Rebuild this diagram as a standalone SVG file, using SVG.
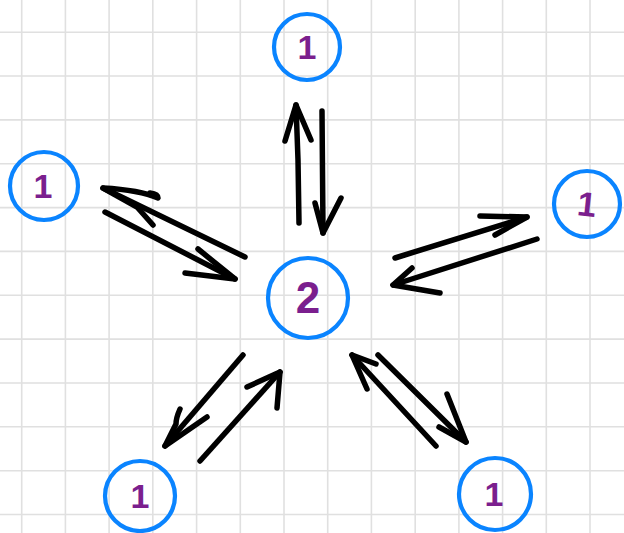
<svg xmlns="http://www.w3.org/2000/svg" width="624" height="533" viewBox="0 0 624 533">
<defs>
<style>
.grid{stroke:#e0e0e0;stroke-width:1.6;fill:none}
.node{fill:none;stroke:#0a84ff;stroke-width:4.2}
.lbl{font-family:"Liberation Sans",Arial,sans-serif;font-weight:bold;fill:#7b1f8e;text-anchor:middle}
.arr{fill:none;stroke:#000;stroke-width:5.5;stroke-linecap:round;stroke-linejoin:round}
</style>
</defs>
<rect width="624" height="533" fill="#fff"/>
<g id="grid" class="grid">
<path d="M21.7 0V533M65.4 0V533M109.1 0V533M152.8 0V533M196.6 0V533M240.3 0V533M284 0V533M327.7 0V533M371.4 0V533M415.2 0V533M458.9 0V533M502.6 0V533M546.3 0V533M590 0V533"/>
<path d="M0 32.2H624M0 76H624M0 119.9H624M0 163.7H624M0 207.6H624M0 251.4H624M0 295.3H624M0 339.1H624M0 383H624M0 426.8H624M0 470.7H624M0 514.5H624"/>
</g>
<g id="connectors" class="arr">
<path d="M299 223 L298 160 L296 105"/>
<path d="M285 141 L296 105 L311 140"/>
<path d="M322 111 L323 233"/>
<path d="M315 203 L323 233 L341 198"/>
<path d="M105 212 L235 279"/>
<path d="M198 249 L235 279 L185 273"/>
<path d="M245 257 L103 188"/>
<path d="M153 225 L137 207 L103 188 Q140 190 158 198 Q158 194 150 193"/>
<path d="M395 258 L527 217"/>
<path d="M480 216 L527 217 L495 235"/>
<path d="M537 239 L393 285"/>
<path d="M412 268 L393 285 L440 293"/>
<path d="M243 355 L165 446"/>
<path d="M180 409 Q176 418 176 424 L165 446 L207 417"/>
<path d="M200 461 L280 372"/>
<path d="M247 387 L280 372 L277 408"/>
<path d="M436 446 L352 355"/>
<path d="M367 389 L352 355 L376 364"/>
<path d="M378 355 L466 442"/>
<path d="M447 394 L466 442 L439 427"/>
</g>
<g id="node-top"><circle class="node" cx="307" cy="47" r="33"/><text class="lbl" x="307" y="59" font-size="34">1</text></g>
<g id="node-left"><circle class="node" cx="44" cy="186" r="34"/><text class="lbl" x="43" y="198" font-size="34">1</text></g>
<g id="node-right"><circle class="node" cx="587" cy="204" r="33"/><text class="lbl" x="587" y="216" font-size="34" transform="rotate(6 587 204)">1</text></g>
<g id="node-center"><circle class="node" cx="308" cy="298" r="40"/><text class="lbl" x="308" y="313" font-size="44">2</text></g>
<g id="node-bottom-left"><circle class="node" cx="140" cy="496" r="35"/><text class="lbl" x="140" y="508" font-size="34">1</text></g>
<g id="node-bottom-right"><circle class="node" cx="495" cy="494" r="36"/><text class="lbl" x="494" y="506" font-size="34">1</text></g>
</svg>
